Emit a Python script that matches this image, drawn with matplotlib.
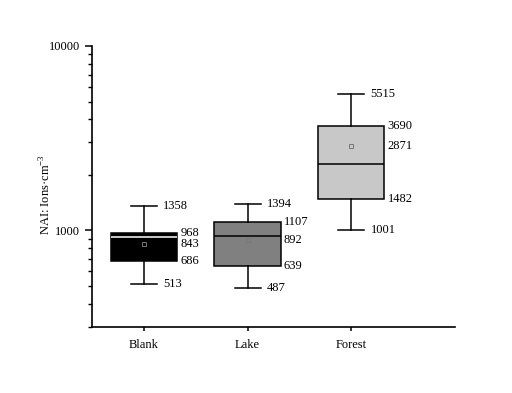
import matplotlib
matplotlib.use('Agg')
import matplotlib.pyplot as plt
from matplotlib.ticker import LogLocator, NullFormatter, FixedLocator

plt.rcParams['font.family'] = ['Liberation Serif', 'DejaVu Serif']
plt.rcParams['mathtext.fontset'] = 'custom'
plt.rcParams['mathtext.rm'] = 'Liberation Serif'

# data (ions/cm3)
groups = ['Blank', 'Lake', 'Forest']
whis_low = [513, 487, 1001]
q1 = [686, 639, 1482]
medians = [925, 935, 2280]
q3 = [968, 1107, 3690]
whis_high = [1358, 1394, 5515]
means = [843, 892, 2871]
box_colors = ['#000000', '#808080', '#c8c8c8']
median_colors = ['#ffffff', '#000000', '#000000']

positions = [1, 2, 3]
box_w = 0.64
cap_w = 0.25

fig = plt.figure(figsize=(5.12, 3.93), dpi=100)
ax = fig.add_axes([0.1797, 0.168, 0.709, 0.715])

stats = []
for i, g in enumerate(groups):
    stats.append(dict(label=g, med=medians[i], q1=q1[i], q3=q3[i],
                      whislo=whis_low[i], whishi=whis_high[i],
                      mean=means[i], fliers=[]))

bp = ax.bxp(stats, positions=positions, widths=box_w, capwidths=cap_w,
            showmeans=True, patch_artist=True, showfliers=False,
            boxprops=dict(linewidth=1.1, edgecolor='black'),
            whiskerprops=dict(linewidth=1.1, color='black'),
            capprops=dict(linewidth=1.1, color='black'),
            medianprops=dict(linewidth=1.1),
            meanprops=dict(marker='s', markersize=3.5, markerfacecolor='none',
                           markeredgecolor='#777777', markeredgewidth=0.7))

for patch, c in zip(bp['boxes'], box_colors):
    patch.set_facecolor(c)
for line, c in zip(bp['medians'], median_colors):
    line.set_color(c)

# value labels
fs = 9
for i, p in enumerate(positions):
    xw = p + cap_w / 2 + 0.06
    xb = p + box_w / 2 + 0.03
    ax.text(xw, whis_high[i], str(whis_high[i]), va='center', ha='left', fontsize=fs)
    ax.text(xw, whis_low[i], str(whis_low[i]), va='center', ha='left', fontsize=fs)
    ax.text(xb, q3[i], str(q3[i]), va='center', ha='left', fontsize=fs)
    ax.text(xb, means[i], str(means[i]), va='center', ha='left', fontsize=fs)
    ax.text(xb, q1[i], str(q1[i]), va='center', ha='left', fontsize=fs)

ax.set_yscale('log')
ax.set_ylim(300, 10000)
ax.set_xlim(0.5, 4.0)
ax.yaxis.set_major_locator(FixedLocator([1000, 10000]))
ax.yaxis.set_major_formatter(matplotlib.ticker.FuncFormatter(lambda v, _: f'{int(v)}'))
ax.yaxis.set_minor_locator(LogLocator(base=10, subs=range(2, 10)))
ax.yaxis.set_minor_formatter(NullFormatter())

ax.set_xticks(positions)
ax.set_xticklabels(groups, fontsize=fs)
ax.tick_params(axis='y', which='major', direction='out', length=5, width=1.1, labelsize=fs)
ax.tick_params(axis='y', which='minor', direction='out', length=3, width=1.0)
ax.tick_params(axis='x', direction='out', length=3, width=1.1, pad=6)

ax.spines['top'].set_visible(False)
ax.spines['right'].set_visible(False)
ax.spines['left'].set_linewidth(1.2)
ax.spines['bottom'].set_linewidth(1.2)

ax.set_ylabel('NAI: Ions·cm$^{-3}$', fontsize=fs)
ax.yaxis.set_label_coords(-0.105, 0.47)

fig.savefig('out.png', dpi=100)
